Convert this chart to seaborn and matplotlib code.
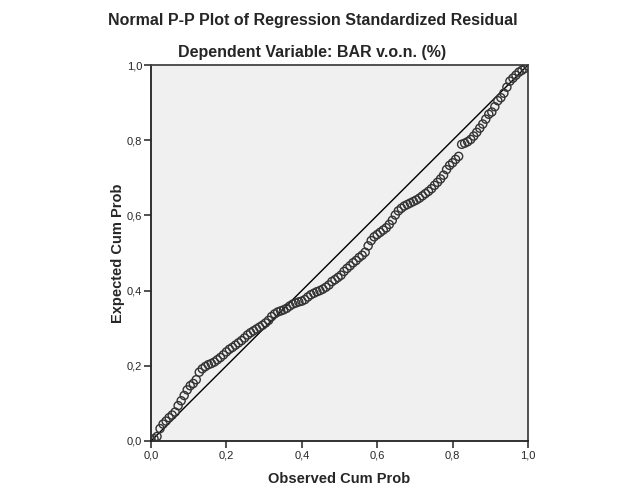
import matplotlib
matplotlib.use("Agg")
import matplotlib.pyplot as plt
import seaborn as sns
import pandas as pd
from matplotlib.ticker import FuncFormatter

# ---- data ----
observed_cum_prob = [
    0.000, 0.008, 0.016, 0.024, 0.032, 0.040, 0.048, 0.056, 0.064, 0.072,
    0.080, 0.088, 0.096, 0.104, 0.112, 0.120, 0.128, 0.136, 0.144, 0.152,
    0.160, 0.168, 0.176, 0.184, 0.192, 0.200, 0.208, 0.216, 0.224, 0.232,
    0.240, 0.248, 0.256, 0.264, 0.272, 0.280, 0.288, 0.296, 0.304, 0.312,
    0.320, 0.328, 0.336, 0.344, 0.352, 0.360, 0.368, 0.376, 0.384, 0.392,
    0.400, 0.408, 0.416, 0.424, 0.432, 0.440, 0.448, 0.456, 0.464, 0.472,
    0.480, 0.488, 0.496, 0.504, 0.512, 0.520, 0.528, 0.536, 0.544, 0.552,
    0.560, 0.568, 0.576, 0.584, 0.592, 0.600, 0.608, 0.616, 0.624, 0.632,
    0.640, 0.648, 0.656, 0.664, 0.672, 0.680, 0.688, 0.696, 0.704, 0.712,
    0.720, 0.728, 0.736, 0.744, 0.752, 0.760, 0.768, 0.776, 0.784, 0.792,
    0.800, 0.808, 0.816, 0.824, 0.832, 0.840, 0.848, 0.856, 0.864, 0.872,
    0.880, 0.888, 0.896, 0.904, 0.912, 0.920, 0.928, 0.936, 0.944, 0.952,
    0.960, 0.968, 0.976, 0.984, 0.992, 1.000,
]
expected_cum_prob = [
    0.004, 0.006, 0.012, 0.033, 0.045, 0.053, 0.062, 0.069, 0.077, 0.094,
    0.107, 0.121, 0.136, 0.147, 0.153, 0.163, 0.183, 0.192, 0.198, 0.203,
    0.206, 0.210, 0.216, 0.222, 0.229, 0.237, 0.244, 0.249, 0.255, 0.261,
    0.267, 0.274, 0.282, 0.288, 0.293, 0.298, 0.303, 0.308, 0.314, 0.321,
    0.331, 0.338, 0.343, 0.346, 0.349, 0.353, 0.359, 0.364, 0.367, 0.370,
    0.372, 0.376, 0.383, 0.389, 0.393, 0.397, 0.400, 0.404, 0.409, 0.415,
    0.424, 0.429, 0.435, 0.441, 0.451, 0.459, 0.466, 0.474, 0.480, 0.488,
    0.494, 0.502, 0.519, 0.533, 0.543, 0.549, 0.555, 0.561, 0.567, 0.576,
    0.587, 0.601, 0.612, 0.619, 0.625, 0.629, 0.633, 0.637, 0.641, 0.646,
    0.652, 0.658, 0.664, 0.671, 0.680, 0.688, 0.697, 0.707, 0.722, 0.733,
    0.740, 0.749, 0.757, 0.789, 0.792, 0.796, 0.802, 0.811, 0.821, 0.832,
    0.843, 0.856, 0.869, 0.875, 0.889, 0.905, 0.913, 0.925, 0.941, 0.957,
    0.965, 0.973, 0.981, 0.986, 0.991, 0.998,
]
reference_line = [0.0, 1.0]
tick_values = [0.0, 0.2, 0.4, 0.6, 0.8, 1.0]

title = "Normal P-P Plot of Regression Standardized Residual"
subtitle = "Dependent Variable: BAR v.o.n. (%)"
x_label = "Observed Cum Prob"
y_label = "Expected Cum Prob"

# ---- plotting ----
sns.set_theme(style="white")
plt.rcParams["font.family"] = ["Liberation Sans", "DejaVu Sans"]

df = pd.DataFrame({"obs": observed_cum_prob, "exp": expected_cum_prob})
ref = pd.DataFrame({"x": reference_line, "y": reference_line})

fig = plt.figure(figsize=(6.26, 5.01), dpi=100)
fig.patch.set_facecolor("white")
ax = fig.add_axes([151 / 626, (501 - 441) / 501, 377 / 626, 376 / 501])
ax.set_facecolor("#f0f0f0")

sns.lineplot(data=ref, x="x", y="y", ax=ax, color="black", linewidth=1.0,
             zorder=2)
sns.scatterplot(data=df, x="obs", y="exp", ax=ax, s=34, marker="o",
                facecolors="none", edgecolor="#333333", linewidth=1.0,
                zorder=3)

ax.set_xlim(0, 1)
ax.set_ylim(0, 1)
ax.set_xticks(tick_values)
ax.set_yticks(tick_values)
fmt = FuncFormatter(lambda v, p: f"{v:.1f}".replace(".", ","))
ax.xaxis.set_major_formatter(fmt)
ax.yaxis.set_major_formatter(fmt)
ax.tick_params(axis="both", which="major", direction="out", length=5,
               width=1.2, color="#333333", labelsize=8, pad=1.5,
               bottom=True, left=True, top=False, right=False)

for s in ax.spines.values():
    s.set_visible(True)
    s.set_color("#444444")
    s.set_linewidth(1.3)
ax.spines["bottom"].set_color("#222222")
ax.spines["left"].set_color("#222222")

ax.set_xlabel(x_label, fontsize=10.5, fontweight="bold", labelpad=8.5)
ax.set_ylabel(y_label, fontsize=10.5, fontweight="bold", labelpad=1.5)

fig.text(313 / 626, 1 - 21 / 501, title, ha="center", va="center",
         fontsize=11.5, fontweight="bold")
fig.text(312 / 626, 1 - 53 / 501, subtitle, ha="center", va="center",
         fontsize=11.5, fontweight="bold")

fig.savefig("out.png", dpi=100)
